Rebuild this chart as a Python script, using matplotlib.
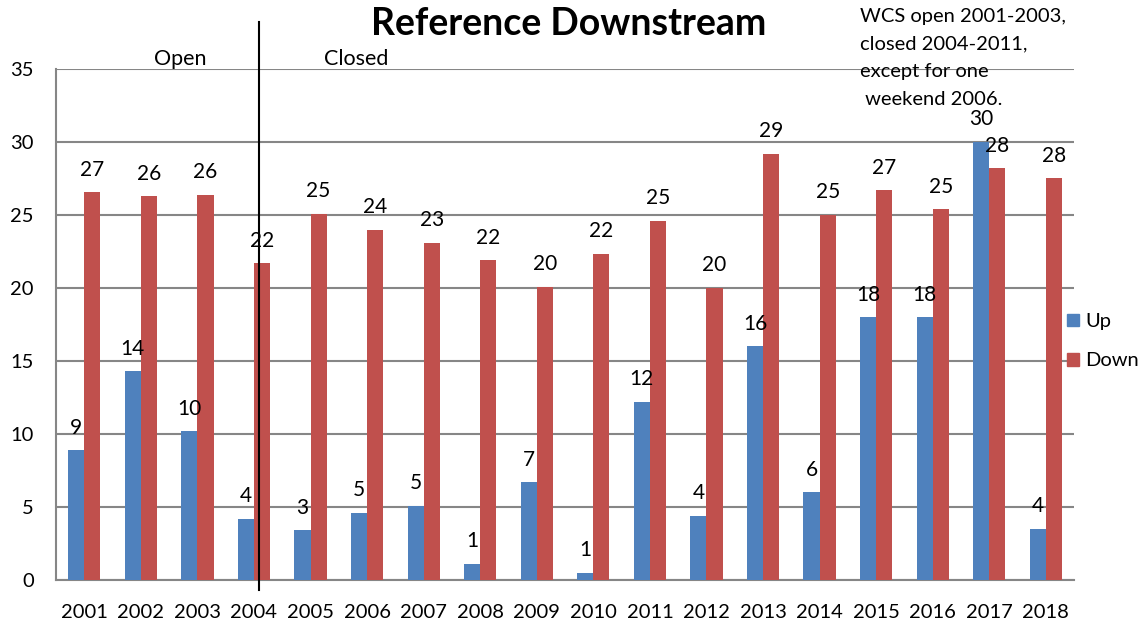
import numpy as np
from matplotlib import pyplot as plt
from matplotlib.patches import Patch

plt.rcParams['font.family'] = ['Lato', 'DejaVu Sans']

# dados
years = ['2001', '2002', '2003', '2004', '2005', '2006', '2007', '2008', '2009',
         '2010', '2011', '2012', '2013', '2014', '2015', '2016', '2017', '2018']
up = [8.9, 14.3, 10.2, 4.2, 3.4, 4.6, 5.1, 1.1, 6.7,
      0.5, 12.2, 4.4, 16.0, 6.0, 18.0, 18.0, 30.0, 3.5]
down = [26.55, 26.3, 26.4, 21.7, 25.1, 24.0, 23.1, 21.9, 20.1,
        22.35, 24.6, 20.0, 29.2, 25.0, 26.7, 25.4, 28.2, 27.5]
up_labels = ['9', '14', '10', '4', '3', '5', '5', '1', '7',
             '1', '12', '4', '16', '6', '18', '18', '30', '4']
down_labels = ['27', '26', '26', '22', '25', '24', '23', '22', '20',
               '22', '25', '20', '29', '25', '27', '25', '28', '28']
note = 'WCS open 2001-2003,\nclosed 2004-2011,\nexcept for one\n weekend 2006.'

blue = '#4F81BD'
red = '#C0504D'
grid = '#868686'

fig = plt.figure(figsize=(11.39, 6.26), dpi=100)
ax = fig.add_axes([0.0492, 0.0735, 0.8938, 0.8163])

x = np.arange(len(years))
w = 0.285
b1 = ax.bar(x - w / 2, up, w, color=blue, label='Up', zorder=3)
b2 = ax.bar(x + w / 2, down, w, color=red, label='Down', zorder=3)

for bars, labs in ((b1, up_labels), (b2, down_labels)):
    for r, t in zip(bars, labs):
        ax.annotate(t, (r.get_x() + r.get_width() / 2, r.get_height()),
                    xytext=(0, 9), textcoords='offset points',
                    ha='center', va='bottom', fontsize=15)

ax.set_xlim(-0.5, len(years) - 0.5)
ax.set_ylim(0, 35)
ax.set_yticks(range(0, 36, 5))
ax.set_xticks(x)
ax.set_xticklabels(years)
ax.tick_params(axis='both', length=0, labelsize=14.5)
ax.tick_params(axis='y', pad=16)
ax.tick_params(axis='x', pad=17)
ax.yaxis.grid(True, color=grid, linewidth=1.5, zorder=0)
ax.set_axisbelow(True)
for s in ('top', 'right'):
    ax.spines[s].set_visible(False)
ax.spines['left'].set_color(grid)
ax.spines['left'].set_linewidth(1.5)
ax.spines['bottom'].set_color(grid)
ax.spines['bottom'].set_linewidth(1.5)

# linha vertical entre aberto e fechado
ax.plot([3.08, 3.08], [-0.02, 1.092], color='black', linewidth=1.5,
        transform=ax.get_xaxis_transform(), clip_on=False, zorder=5)
ax.text(1.69, 1.0, 'Open', transform=ax.get_xaxis_transform(),
        ha='center', va='bottom', fontsize=15.5)
ax.text(4.80, 1.0, 'Closed', transform=ax.get_xaxis_transform(),
        ha='center', va='bottom', fontsize=15.5)

fig.text(0.499, 0.962, 'Reference Downstream', ha='center', va='center',
         fontsize=27, fontweight='bold')
fig.text(0.755, 0.987, note, ha='left', va='top', fontsize=14.5, linespacing=1.75)

handles = [Patch(color=blue, label='Up'), Patch(color=red, label='Down')]
fig.legend(handles=handles, loc='center left', bbox_to_anchor=(0.921, 0.455),
           frameon=False, fontsize=14.5, handlelength=0.6, handleheight=0.6,
           handletextpad=0.3, labelspacing=1.1)

fig.savefig('out.png', dpi=100)
